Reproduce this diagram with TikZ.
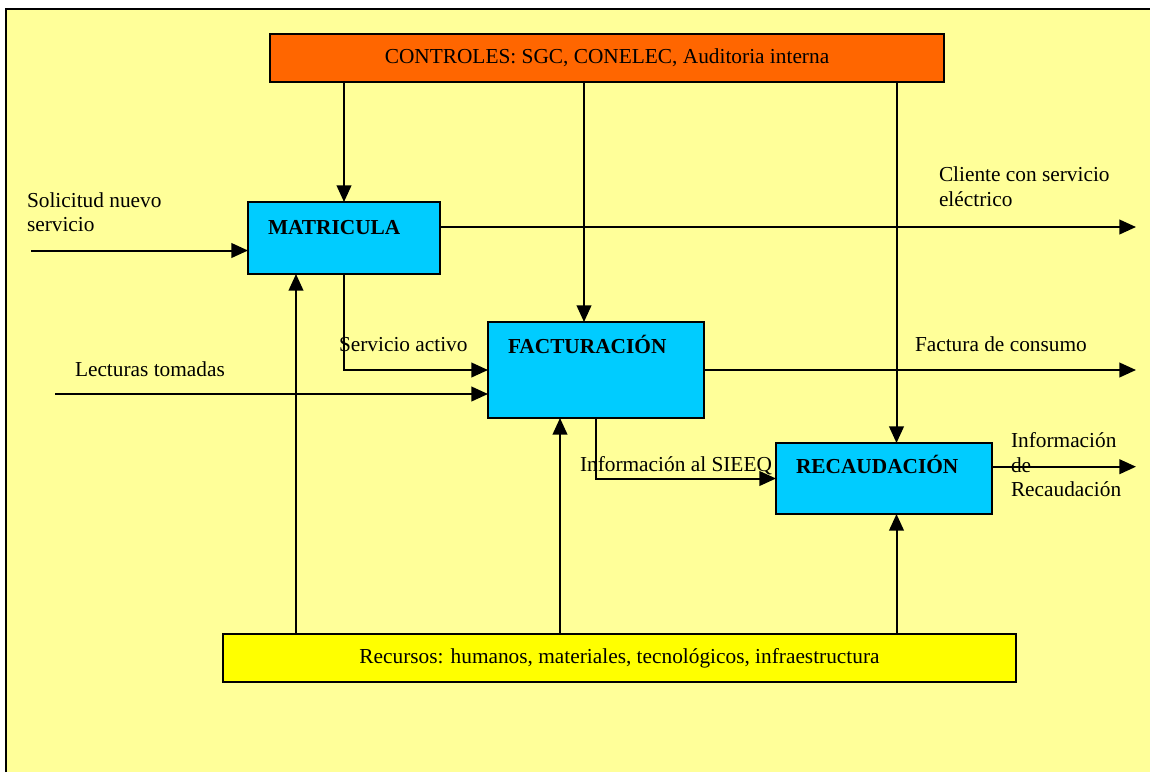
\documentclass[tikz,border=0pt]{standalone}
\usepackage{fontspec}
\setmainfont{Liberation Serif}
\usetikzlibrary{arrows.meta}

\definecolor{paper}{HTML}{FFFF99}
\definecolor{ctrlorange}{HTML}{FF6600}
\definecolor{proccyan}{HTML}{00CCFF}
\definecolor{resyellow}{HTML}{FFFF00}

\begin{document}
\begin{tikzpicture}[x=0.75pt,y=-0.75pt,
  every node/.style={font=\fontsize{16}{18.5}\selectfont, inner sep=0pt, outer sep=0pt},
  panel/.style={draw=black, line width=1.3pt, anchor=north west},
  procbox/.style={panel, fill=proccyan},
  title/.style={anchor=base west, font=\fontsize{16}{18.5}\selectfont\bfseries},
  flowlabel/.style={anchor=base west, align=left},
  flow/.style={draw=black, line width=1.5pt, -{Triangle[length=12.5pt,width=11pt]}}
]
\useasboundingbox (0,0) rectangle (1150,772);

% sheet and its frame
\fill[white] (0,0) rectangle (1150,772);
\fill[paper] (6,9) rectangle (1150,772);
\draw[line width=1.5pt] (6,772) -- (6,9) -- (1150,9);

% controls and resources bars
\node[panel, fill=ctrlorange, minimum width={674*0.75pt}, minimum height={48*0.75pt}]
  (ctrl) at (270,34) {CONTROLES: SGC, CONELEC, Auditoria interna};
\node[panel, fill=resyellow, minimum width={793*0.75pt}, minimum height={48*0.75pt}]
  (res) at (223,634) {Recursos: humanos, materiales, tecnológicos, infraestructura};

% process boxes
\node[procbox, minimum width={192*0.75pt}, minimum height={72*0.75pt}] (mat) at (248,202) {};
\node[procbox, minimum width={216*0.75pt}, minimum height={96*0.75pt}] (fac) at (488,322) {};
\node[procbox, minimum width={216*0.75pt}, minimum height={71*0.75pt}] (rec) at (776,443) {};

\node[title] (matT) at (268,234) {MATRICULA};
\node[title] (facT) at (508,353.3) {FACTURACIÓN};
\node[title] (recT) at (796,473.3) {RECAUDACIÓN};

% helper positions for the vertical links
\coordinate (xFacCtrl) at (584,0);
\coordinate (xRec) at (896.5,0);
\coordinate (xMatRes) at (296,0);
\coordinate (xFacRes) at (560,0);

% free ends of inputs and outputs
\coordinate (inSol) at (31,250.5);
\coordinate (inLec) at (55,394);
\coordinate (outCli) at (1136,227);
\coordinate (outFac) at (1136,370);
\coordinate (outRec) at (1136,466.7);

% flow labels (base anchor sits on the last line)
\node[flowlabel] (lSol) at (27,231.7) {Solicitud nuevo\\servicio};
\node[flowlabel] (lLec) at (75,376) {Lecturas tomadas};
\node[flowlabel] (lServ) at (339,351.7) {Servicio activo};
\node[flowlabel] (lCli) at (939,206) {Cliente con servicio\\eléctrico};
\node[flowlabel] (lFac) at (915,351.7) {Factura de consumo};
\node[flowlabel] (lSie) at (580,471.7) {Información al SIEEQ};
\node[flowlabel] (lRec) at (1011,496.7) {Información\\de\\Recaudación};

% controls down into the processes
\draw[flow] (ctrl.south -| mat.north) -- (mat.north);
\draw[flow] (ctrl.south -| xFacCtrl) -- (fac.north -| xFacCtrl);
\draw[flow] (ctrl.south -| xRec) -- (rec.north -| xRec);

% resources up into the processes
\draw[flow] (res.north -| xMatRes) -- (mat.south -| xMatRes);
\draw[flow] (res.north -| xFacRes) -- (fac.south -| xFacRes);
\draw[flow] (res.north -| xRec) -- (rec.south -| xRec);

% inputs
\draw[flow] (inSol) -- (mat.west |- inSol);
\draw[flow] (inLec) -- (fac.west |- inLec);

% chaining between processes
\draw[flow] (mat.south) |- (fac.west);
\draw[flow] (fac.south) |- (rec.west);

% outputs
\draw[flow] (mat.east |- outCli) -- (outCli);
\draw[flow] (fac.east |- outFac) -- (outFac);
\draw[flow] (rec.east |- outRec) -- (outRec);
\end{tikzpicture}
\end{document}
